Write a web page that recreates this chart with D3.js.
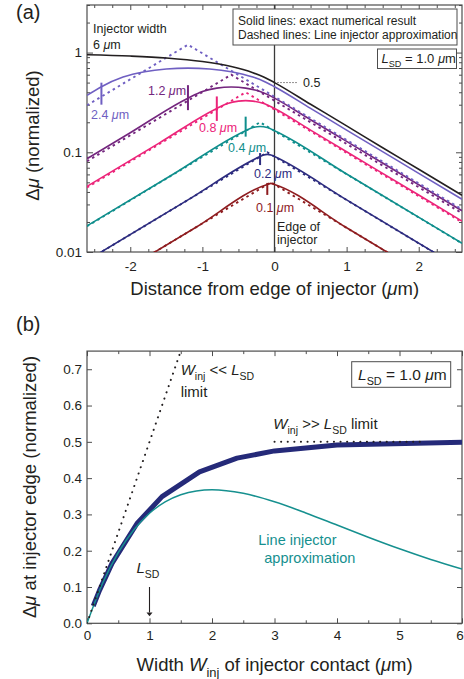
<!DOCTYPE html>
<html>
<head>
<meta charset="utf-8">
<script src="https://cdn.jsdelivr.net/npm/d3@7"></script>
<style>
	body { margin: 0; background: #fff; }
	svg text { font-family: "Liberation Sans", Arial, sans-serif; }
</style>
</head>
<body>
<div id="chart"></div>
<script>
// ---- panel (a): delta mu vs distance from injector edge (um), log scale
const exact6 = [[-2.6, 0.95], [-2.0, 0.923], [-1.5, 0.883], [-1.0, 0.813], [-0.6, 0.724], [-0.3, 0.628], [-0.15, 0.57], [0, 0.5], [0.5, 0.303], [1.0, 0.184], [1.5, 0.111], [2.0, 0.0676], [2.6, 0.0371]];
const exact24 = [[-2.6, 0.372], [-2.4, 0.455], [-2.1, 0.568], [-1.8, 0.643], [-1.5, 0.685], [-1.2, 0.699], [-0.9, 0.685], [-0.6, 0.643], [-0.3, 0.568], [-0.15, 0.517], [0, 0.455], [0.5, 0.276], [1.0, 0.167], [2.0, 0.0615], [2.6, 0.0338]];
const exact12 = [[-2.6, 0.0862], [-2.0, 0.157], [-1.2, 0.349], [-1.0, 0.407], [-0.8, 0.44], [-0.6, 0.451], [-0.4, 0.44], [-0.2, 0.407], [-0.1, 0.381], [0, 0.349], [0.5, 0.212], [1.0, 0.1285], [2.0, 0.0473], [2.6, 0.0259]];
const exact08 = [[-2.6, 0.0455], [-1.6, 0.1237], [-0.8, 0.2753], [-0.65, 0.309], [-0.5, 0.326], [-0.4, 0.3297], [-0.3, 0.326], [-0.15, 0.309], [0, 0.2753], [0.5, 0.167], [1.0, 0.1013], [2.0, 0.0373], [2.6, 0.0204]];
const exact04 = [[-2.6, 0.01826], [-1.4, 0.0606], [-0.4, 0.1648], [-0.3, 0.1772], [-0.2, 0.1813], [-0.1, 0.1772], [0, 0.1648], [1.0, 0.0606], [2.6, 0.01224]];
const exact02 = [[-2.6, 0.00822], [-1.2, 0.0333], [-0.2, 0.0906], [-0.15, 0.094], [-0.1, 0.0952], [-0.05, 0.094], [0, 0.0906], [1.0, 0.0333], [2.6, 0.00673]];
const exact01 = [[-2.6, 0.0039], [-1.1, 0.0175], [-0.1, 0.0476], [-0.05, 0.0488], [0, 0.0476], [1.0, 0.0175], [2.6, 0.00353]];

const line24 = [[-2.6, 0.296], [-1.2, 1.2], [2.6, 0.0268]];
const line12 = [[-2.6, 0.0812], [-0.6, 0.6], [2.6, 0.0245]];
const line08 = [[-2.6, 0.0443], [-0.4, 0.4], [2.6, 0.0199]];
const line04 = [[-2.6, 0.0181], [-0.2, 0.2], [2.6, 0.0122]];
const line02 = [[-2.6, 0.0082], [-0.1, 0.1], [2.6, 0.0067]];
const line01 = [[-2.6, 0.0039], [-0.05, 0.05], [2.6, 0.00353]];

const injectorWidths = [2.4, 1.2, 0.8, 0.4, 0.2, 0.1];
const xTicksA = [-2, -1, 0, 1, 2];
const yTicksA = [0.01, 0.1, 1];

// ---- panel (b): delta mu at injector edge vs injector width (um)
const exactEdgeW = [0.1, 0.2, 0.4, 0.8, 1.2, 1.8, 2.4, 3, 4, 6];
const exactEdge = [0.0476, 0.0906, 0.165, 0.275, 0.349, 0.417, 0.455, 0.475, 0.491, 0.499];
const lineEdgeW = [0, 0.25, 0.5, 0.75, 1, 1.25, 1.5, 1.75, 2, 2.5, 3, 3.5, 4, 4.5, 5, 5.5, 6];
const lineEdge = [0, 0.1103, 0.1947, 0.2577, 0.3033, 0.3346, 0.3543, 0.3648, 0.3679, 0.3581, 0.3347, 0.3041, 0.2707, 0.2371, 0.2052, 0.1758, 0.1494];
const smallLimit = [[0, 0], [1.5, 0.75]];
const largeLimit = [[3, 0.5], [5.35, 0.5]];
const xTicksB = [0, 1, 2, 3, 4, 5, 6];
const yTicksB = [0, 0.1, 0.2, 0.3, 0.4, 0.5, 0.6, 0.7];

const ink = '#231f20';
const frame = '#4d4d4d';

const svg = d3.select('#chart').append('svg')
	.attr('width', 464)
	.attr('height', 679);

// text with italic / subscript pieces
function richText(g, x, y, parts, size, color, anchor) {
	let t = g.append('text')
		.attr('x', x).attr('y', y)
		.attr('font-size', size)
		.attr('fill', color || ink)
		.attr('text-anchor', anchor || 'start');
	let shift = 0;
	parts.forEach(p => {
		if (typeof p === 'string') p = {t: p};
		let s = t.append('tspan').text(p.t);
		if (p.i) s.attr('font-style', 'italic');
		let target = p.sub ? size * 0.34 : 0;
		if (target !== shift) {
			s.attr('dy', target - shift);
			shift = target;
		}
		if (p.sub) s.attr('font-size', size * 0.7);
	});
	return t;
}

function styleAxis(g, labelSize) {
	g.select('.domain').remove();
	g.selectAll('.tick line').attr('stroke', frame).attr('stroke-width', 1);
	g.selectAll('.tick text')
		.attr('fill', ink)
		.attr('font-size', labelSize)
		.attr('font-family', '"Liberation Sans", Arial, sans-serif');
}

// ================= panel (a)
let xA = d3.scaleLinear().domain([-2.6, 2.6]).range([87, 462]);
let yA = d3.scaleLog().domain([0.01, 3]).range([252, 5]);

let gA = svg.append('g');

gA.append('clipPath').attr('id', 'clipA')
	.append('rect')
	.attr('x', 87).attr('y', 5)
	.attr('width', 375).attr('height', 247);

let minorX = d3.range(-10, 11).map(d => d * 0.25).filter(d => !Number.isInteger(d));
let minorY = [2, 3, 4, 5, 6, 7, 8, 9].flatMap(m => [m * 0.01, m * 0.1]).concat([2, 3]);

gA.append('g').attr('transform', 'translate(0,252)')
	.call(d3.axisBottom(xA).tickValues(xTicksA).tickSize(-5).tickPadding(9).tickFormat(d => String(d)))
	.call(g => styleAxis(g, 13.5));
gA.append('g').attr('transform', 'translate(0,252)')
	.call(d3.axisBottom(xA).tickValues(minorX).tickSize(-3).tickFormat(''))
	.call(g => styleAxis(g, 13.5));
gA.append('g').attr('transform', 'translate(0,5)')
	.call(d3.axisTop(xA).tickValues(xTicksA).tickSize(-5).tickFormat(''))
	.call(g => styleAxis(g, 13.5));
gA.append('g').attr('transform', 'translate(0,5)')
	.call(d3.axisTop(xA).tickValues(minorX).tickSize(-3).tickFormat(''))
	.call(g => styleAxis(g, 13.5));
gA.append('g').attr('transform', 'translate(87,0)')
	.call(d3.axisLeft(yA).tickValues(yTicksA).tickSize(-6).tickPadding(5).tickFormat(d => String(d)))
	.call(g => styleAxis(g, 13.5));
gA.append('g').attr('transform', 'translate(87,0)')
	.call(d3.axisLeft(yA).tickValues(minorY).tickSize(-3).tickFormat(''))
	.call(g => styleAxis(g, 13.5));
gA.append('g').attr('transform', 'translate(462,0)')
	.call(d3.axisRight(yA).tickValues(yTicksA).tickSize(-6).tickFormat(''))
	.call(g => styleAxis(g, 13.5));
gA.append('g').attr('transform', 'translate(462,0)')
	.call(d3.axisRight(yA).tickValues(minorY).tickSize(-3).tickFormat(''))
	.call(g => styleAxis(g, 13.5));

gA.append('rect')
	.attr('x', 87).attr('y', 5)
	.attr('width', 375).attr('height', 247)
	.attr('fill', 'none')
	.attr('stroke', frame)
	.attr('stroke-width', 1.2);

// edge of injector
gA.append('line')
	.attr('x1', xA(0)).attr('x2', xA(0))
	.attr('y1', yA(3)).attr('y2', yA(0.01))
	.attr('stroke', '#3a3a3a')
	.attr('stroke-width', 1.3);

let lineA = d3.line()
	.curve(d3.curveMonotoneX)
	.x(d => xA(d[0]))
	.y(d => yA(d[1]));

let seriesA = [
	{w: null, exact: exact6, approx: null, color: '#231f20'},
	{w: injectorWidths[0], exact: exact24, approx: line24, color: '#6f5fc2', label: [91, 119], mark: [-4, 18]},
	{w: injectorWidths[1], exact: exact12, approx: line12, color: '#74267e', label: [148, 95], mark: [-13, 12]},
	{w: injectorWidths[2], exact: exact08, approx: line08, color: '#ec2479', label: [199, 131.5], mark: [-12, 12.5]},
	{w: injectorWidths[3], exact: exact04, approx: line04, color: '#0f8e8c', label: [228, 152], mark: [-14, 6]},
	{w: injectorWidths[4], exact: exact02, approx: line02, color: '#2d2c7f', label: [254, 178], mark: [-3.5, 8.5]},
	{w: injectorWidths[5], exact: exact01, approx: line01, color: '#8e1c1f', label: [256, 211.5], mark: [-1.5, 10.5]}
];

let plotA = gA.append('g').attr('clip-path', 'url(#clipA)');

seriesA.slice().reverse().forEach(s => {
	if (s.approx) {
		plotA.append('path')
			.datum(s.approx)
			.attr('fill', 'none')
			.attr('stroke', s.color)
			.attr('stroke-width', 1.9)
			.attr('stroke-dasharray', '2.5,3.5')
			.attr('d', d3.line().x(d => xA(d[0])).y(d => yA(d[1])));
	}
	plotA.append('path')
		.datum(s.exact)
		.attr('fill', 'none')
		.attr('stroke', s.color)
		.attr('stroke-width', 1.6)
		.attr('d', lineA);
});

// width markers and labels
seriesA.filter(s => s.w).forEach(s => {
	let p = s.exact.find(d => Math.abs(d[0] + s.w) < 1e-9);
	let cy = yA(p[1]);
	gA.append('line')
		.attr('x1', xA(-s.w)).attr('x2', xA(-s.w))
		.attr('y1', cy + s.mark[0]).attr('y2', cy + s.mark[1])
		.attr('stroke', s.color)
		.attr('stroke-width', 2);
	richText(gA, s.label[0], s.label[1], [String(s.w) + ' ', {t: 'μ', i: true}, 'm'], 12.5, s.color);
});

richText(gA, 93, 33, ['Injector width'], 12.5);
richText(gA, 93, 49, ['6 ', {t: 'μ', i: true}, 'm'], 12.5);
richText(gA, 277, 230.5, ['Edge of'], 12.5);
richText(gA, 277, 244, ['injector'], 12.5);

gA.append('line')
	.attr('x1', xA(0) + 3).attr('x2', xA(0) + 23)
	.attr('y1', yA(0.5)).attr('y2', yA(0.5))
	.attr('stroke', ink)
	.attr('stroke-width', 1)
	.attr('stroke-dasharray', '1,2');
richText(gA, 303, 87, ['0.5'], 12.5);

// legend box
gA.append('rect')
	.attr('x', 233).attr('y', 9)
	.attr('width', 224).attr('height', 36)
	.attr('fill', '#fff')
	.attr('stroke', frame);
richText(gA, 238, 25, ['Solid lines: exact numerical result'], 12);
richText(gA, 238, 39, ['Dashed lines: Line injector approximation'], 12);

gA.append('rect')
	.attr('x', 377.5).attr('y', 49)
	.attr('width', 79).attr('height', 19.5)
	.attr('fill', '#fff')
	.attr('stroke', frame);
richText(gA, 381.5, 63, [{t: 'L', i: true}, {t: 'SD', sub: true}, ' = 1.0 ', {t: 'μ', i: true}, 'm'], 13);

// axis titles
richText(gA, 274.7, 295, ['Distance from edge of injector (', {t: 'μ', i: true}, 'm)'], 18.5, ink, 'middle');
richText(gA, -135.5, 39, ['Δ', {t: 'μ', i: true}, ' (normalized)'], 18.5, ink, 'middle')
	.attr('transform', 'rotate(-90)');
richText(gA, 16, 18.5, ['(a)'], 20);

// ================= panel (b)
let xB = d3.scaleLinear().domain([0, 6]).range([87, 462]);
let yB = d3.scaleLinear().domain([0, 0.75]).range([623.3, 351.1]);

let gB = svg.append('g');

gB.append('clipPath').attr('id', 'clipB')
	.append('rect')
	.attr('x', 87).attr('y', 351.1)
	.attr('width', 375).attr('height', 272.2);

let minorXB = d3.range(0, 12).map(d => d * 0.5).filter(d => !Number.isInteger(d));

gB.append('g').attr('transform', 'translate(0,623.3)')
	.call(d3.axisBottom(xB).tickValues(xTicksB).tickSize(-5).tickPadding(7.5).tickFormat(d => String(d)))
	.call(g => styleAxis(g, 13.5))
	// last label sits on the window edge; nudge it inside
	.call(g => g.selectAll('.tick text').filter(d => d === 6).attr('dx', -2.5));
gB.append('g').attr('transform', 'translate(0,623.3)')
	.call(d3.axisBottom(xB).tickValues(minorXB).tickSize(-3).tickFormat(''))
	.call(g => styleAxis(g, 13.5));
gB.append('g').attr('transform', 'translate(0,351.1)')
	.call(d3.axisTop(xB).tickValues(xTicksB).tickSize(-5).tickFormat(''))
	.call(g => styleAxis(g, 13.5));
gB.append('g').attr('transform', 'translate(0,351.1)')
	.call(d3.axisTop(xB).tickValues(minorXB).tickSize(-3).tickFormat(''))
	.call(g => styleAxis(g, 13.5));
gB.append('g').attr('transform', 'translate(87,0)')
	.call(d3.axisLeft(yB).tickValues(yTicksB).tickSize(-5).tickPadding(5).tickFormat(d3.format('.1f')))
	.call(g => styleAxis(g, 13.5));
gB.append('g').attr('transform', 'translate(462,0)')
	.call(d3.axisRight(yB).tickValues(yTicksB).tickSize(-5).tickFormat(''))
	.call(g => styleAxis(g, 13.5));

gB.append('rect')
	.attr('x', 87).attr('y', 351.1)
	.attr('width', 375).attr('height', 272.2)
	.attr('fill', 'none')
	.attr('stroke', frame)
	.attr('stroke-width', 1.2);

let plotB = gB.append('g').attr('clip-path', 'url(#clipB)');

plotB.append('path')
	.datum(d3.zip(exactEdgeW, exactEdge))
	.attr('fill', 'none')
	.attr('stroke', '#252a79')
	.attr('stroke-width', 5)
	.attr('stroke-linejoin', 'round')
	.attr('d', d3.line().x(d => xB(d[0])).y(d => yB(d[1])));

plotB.append('path')
	.datum(d3.zip(lineEdgeW, lineEdge))
	.attr('fill', 'none')
	.attr('stroke', '#16908f')
	.attr('stroke-width', 1.5)
	.attr('d', d3.line().curve(d3.curveMonotoneX).x(d => xB(d[0])).y(d => yB(d[1])));

[smallLimit, largeLimit].forEach(l => {
	plotB.append('path')
		.datum(l)
		.attr('fill', 'none')
		.attr('stroke', ink)
		.attr('stroke-width', 2)
		.attr('stroke-linecap', 'round')
		.attr('stroke-dasharray', '0.1,6.5')
		.attr('d', d3.line().x(d => xB(d[0])).y(d => yB(d[1])));
});

// L_SD arrow at W = 1
gB.append('line')
	.attr('x1', xB(1)).attr('x2', xB(1))
	.attr('y1', yB(0.1)).attr('y2', yB(0.03))
	.attr('stroke', ink)
	.attr('stroke-width', 1.1);
gB.append('path')
	.attr('d', `M${xB(1) - 3},${yB(0.03)} L${xB(1) + 3},${yB(0.03)} L${xB(1)},${yB(0.022) + 1} Z`)
	.attr('fill', ink);
richText(gB, 136.5, 573, [{t: 'L', i: true}, {t: 'SD', sub: true}], 15);

richText(gB, 180.7, 375, [{t: 'W', i: true}, {t: 'inj', sub: true}, ' << ', {t: 'L', i: true}, {t: 'SD', sub: true}], 15);
richText(gB, 180.7, 397, ['limit'], 15);
richText(gB, 273.3, 429, [{t: 'W', i: true}, {t: 'inj', sub: true}, ' >> ', {t: 'L', i: true}, {t: 'SD', sub: true}, ' limit'], 15);
richText(gB, 258.3, 545, ['Line injector'], 14.5, '#16908f');
richText(gB, 264.3, 563, ['approximation'], 14.5, '#16908f');

gB.append('rect')
	.attr('x', 351.7).attr('y', 361.7)
	.attr('width', 99).attr('height', 25.6)
	.attr('fill', '#fff')
	.attr('stroke', frame);
richText(gB, 358, 380, [{t: 'L', i: true}, {t: 'SD', sub: true}, ' = 1.0 ', {t: 'μ', i: true}, 'm'], 15.5);

richText(gB, 274.6, 670.5, ['Width ', {t: 'W', i: true}, {t: 'inj', sub: true}, ' of injector contact (', {t: 'μ', i: true}, 'm)'], 18.5, ink, 'middle');
richText(gB, -487, 36, ['Δ', {t: 'μ', i: true}, ' at injector edge (normalized)'], 18.5, ink, 'middle')
	.attr('transform', 'rotate(-90)');
richText(gB, 16, 331, ['(b)'], 20);
</script>
</body>
</html>
